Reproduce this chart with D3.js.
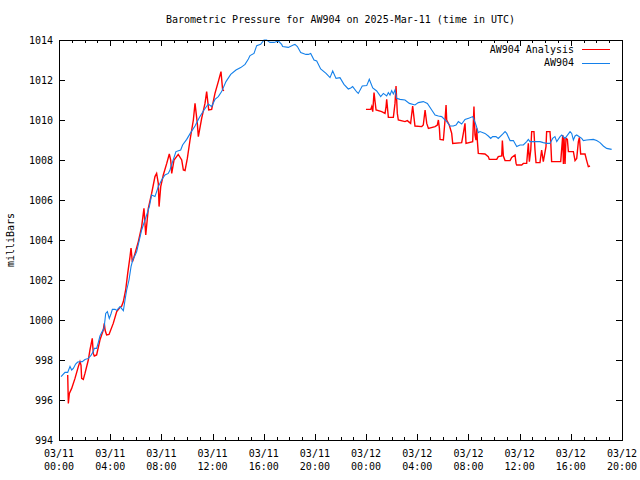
<!DOCTYPE html>
<html><head><meta charset="utf-8">
<script src="https://cdn.jsdelivr.net/npm/d3@7"></script>
<style>
body{margin:0;background:#fff}
svg text{font-family:"DejaVu Sans Mono","Liberation Mono",monospace;font-size:10px;fill:#000}
</style></head><body>
<svg id="c" width="640" height="480"></svg>
<script>
const titleText = "Barometric Pressure for AW904 on 2025-Mar-11 (time in UTC)";
const yLabel = "milliBars";
const seriesNames = ["AW904 Analysis", "AW904"];
const seriesColors = ["#ff0000", "#1480ea"];
const yTicks = [994, 996, 998, 1000, 1002, 1004, 1006, 1008, 1010, 1012, 1014];
const startUtc = Date.UTC(2025, 2, 11, 0, 0);
const endUtc = Date.UTC(2025, 2, 12, 20, 0);

// AW904 observations: hours since 2025-03-11 00:00 UTC, pressure in mb
const obsHours = [0.16,0.47,0.68,0.86,0.99,1.12,1.30,1.46,1.82,2.03,2.29,2.50,2.68,2.76,2.94,3.07,3.20,3.33,3.52,3.65,3.78,3.93,4.06,4.17,4.38,4.51,4.77,5.03,5.16,5.29,5.47,5.63,5.76,5.99,6.07,6.46,6.85,7.06,7.24,7.50,7.76,8.02,8.28,8.54,8.67,8.88,9.14,9.51,9.66,9.98,10.29,10.63,10.97,11.33,11.67,11.93,12.19,12.45,12.71,13.05,13.42,13.83,14.20,14.54,14.80,14.93,15.24,15.45,15.76,16.02,16.23,16.49,16.80,17.14,17.40,17.48,17.92,18.31,18.44,18.63,18.89,19.30,19.49,19.67,19.93,20.14,20.45,20.87,21.18,21.39,21.65,21.96,22.27,22.61,22.80,22.95,23.27,23.39,23.70,24.05,24.25,24.52,24.83,25.14,25.35,25.61,25.74,25.87,26.00,26.13,26.26,26.39,26.65,27.04,27.38,27.82,28.08,28.47,28.79,29.13,29.39,29.65,29.91,30.30,30.56,30.82,31.03,31.21,31.47,31.73,32.07,32.33,32.43,32.59,32.77,32.90,33.29,33.55,33.74,33.89,34.15,34.33,34.73,34.86,34.99,35.25,35.51,35.77,36.03,36.29,36.55,36.68,36.81,37.59,37.85,38.11,38.37,38.58,38.76,38.90,39.16,39.29,39.55,39.94,40.07,40.20,40.33,40.46,40.85,40.98,41.24,41.76,42.02,42.28,42.54,42.80,43.19];
const obsMb = [997.17,997.38,997.38,997.68,997.5,997.58,997.8,997.9,997.92,998.02,998.08,998.23,998.42,998.58,998.58,998.87,999.2,999.37,999.58,1000.33,1000.42,1000.08,1000.3,1000.53,1000.53,1000.48,1000.67,1000.47,1001.0,1001.5,1002.0,1002.67,1003.0,1003.3,1003.42,1004.5,1005.25,1005.67,1006.25,1006.17,1006.67,1007.0,1007.25,1007.33,1007.5,1007.92,1008.42,1008.5,1008.75,1009.03,1009.37,1009.7,1010.13,1010.5,1010.8,1010.67,1011.03,1011.17,1011.42,1011.92,1012.28,1012.5,1012.62,1012.78,1013.05,1013.22,1013.33,1013.72,1013.78,1014.0,1014.0,1013.88,1013.88,1013.95,1013.78,1013.67,1013.63,1013.75,1013.78,1013.67,1013.37,1013.28,1013.28,1013.33,1013.0,1012.95,1012.55,1012.33,1012.12,1012.45,1012.08,1012.12,1011.78,1011.55,1011.6,1011.67,1011.4,1011.33,1011.7,1011.72,1012.04,1011.6,1011.45,1011.17,1011.33,1011.2,1011.37,1011.25,1011.47,1011.3,1011.5,1011.08,1011.03,1011.0,1010.83,1010.75,1010.87,1010.92,1010.83,1010.5,1010.25,1010.2,1010.17,1009.92,1009.7,1009.7,1009.75,1009.92,1009.8,1010.03,1010.1,1010.17,1010.03,1009.75,1009.37,1009.42,1009.33,1009.2,1009.08,1009.17,1009.17,1009.08,1009.33,1009.42,1009.33,1008.97,1008.97,1008.67,1008.75,1008.75,1008.92,1009.03,1008.92,1008.92,1008.87,1008.83,1008.83,1009.08,1009.17,1008.92,1009.17,1009.25,1009.08,1009.42,1009.33,1009.0,1009.2,1009.25,1009.08,1008.97,1009.0,1009.03,1008.97,1008.87,1008.7,1008.58,1008.53];

// AW904 Analysis: hours and pressure; null marks the data gap
const anaHours = [0.68,0.73,0.81,0.99,1.25,1.51,1.64,1.72,1.77,1.90,2.03,2.29,2.42,2.60,2.68,2.76,2.94,3.20,3.46,3.54,3.60,3.72,3.91,4.24,4.51,4.77,4.90,5.03,5.21,5.37,5.55,5.63,5.73,5.81,6.20,6.46,6.64,6.78,6.98,7.24,7.50,7.63,7.76,7.82,7.95,8.15,8.42,8.62,8.73,8.81,8.99,9.32,9.59,9.72,9.85,10.03,10.24,10.50,10.63,10.81,10.89,11.15,11.41,11.54,11.70,11.93,12.19,12.45,12.66,12.79,12.90,18.0,23.99,24.36,24.44,24.52,24.62,24.70,24.78,25.22,25.48,25.56,25.61,25.74,26.13,26.26,26.34,26.44,26.52,27.04,27.22,27.48,27.64,27.82,28.35,28.47,28.61,28.74,28.87,29.39,29.57,29.65,29.73,29.78,30.04,30.17,30.25,30.30,30.50,30.69,30.77,31.47,31.60,31.73,31.81,32.33,32.43,32.51,32.59,32.65,32.70,32.77,33.29,33.55,33.63,34.21,34.33,34.60,34.65,34.73,34.86,35.25,35.38,35.64,35.72,35.77,36.16,36.29,36.55,36.68,36.76,36.87,36.94,37.12,37.20,37.28,37.59,37.72,37.85,38.06,38.11,38.37,38.43,38.50,39.21,39.29,39.37,39.42,39.47,39.55,39.62,39.73,39.81,40.20,40.33,40.46,40.59,40.67,40.77,41.11,41.24,41.37,41.50];
const anaMb = [997.25,995.83,996.33,996.58,997.08,997.67,997.92,997.75,997.08,997.03,997.33,998.0,998.5,999.08,998.33,998.2,998.25,999.0,999.5,999.83,999.5,999.25,999.28,999.83,1000.42,1000.63,1000.7,1000.92,1001.5,1002.33,1003.17,1003.6,1002.9,1003.03,1003.92,1004.67,1005.58,1004.25,1005.58,1006.33,1007.17,1007.33,1006.83,1005.67,1006.67,1007.25,1007.83,1008.3,1008.0,1007.33,1008.0,1008.28,1008.0,1007.5,1007.47,1008.08,1009.0,1010.0,1010.83,1009.83,1009.17,1010.08,1010.83,1011.42,1010.5,1010.53,1011.33,1011.92,1012.42,1011.5,1011.47,null,1010.53,1010.53,1010.67,1010.42,1011.37,1010.92,1010.5,1010.42,1010.33,1010.67,1011.03,1010.13,1010.13,1010.83,1011.7,1010.33,1010.0,1009.92,1009.97,1009.83,1010.7,1009.7,1009.67,1009.75,1010.5,1009.83,1009.58,1009.67,1009.75,1010.0,1009.58,1009.03,1009.0,1010.0,1010.75,1010.0,1009.75,1009.33,1008.83,1008.87,1009.33,1009.83,1008.83,1008.92,1010.67,1009.25,1009.0,1009.58,1008.92,1008.33,1008.3,1008.17,1008.03,1008.03,1008.17,1008.2,1008.97,1008.2,1007.97,1007.97,1008.13,1008.25,1007.83,1007.75,1007.75,1007.83,1007.83,1008.83,1007.92,1008.5,1009.42,1009.42,1008.5,1007.87,1007.87,1008.5,1007.92,1008.67,1009.42,1009.42,1008.92,1007.92,1007.92,1008.58,1009.25,1007.8,1009.13,1007.8,1009.08,1009.03,1008.42,1008.42,1007.97,1008.08,1008.92,1009.13,1008.3,1008.3,1007.97,1007.67,1007.7];

const svg = d3.select("#c");
const L = 59, R = 622, T = 40, B = 440;
const toDate = h => new Date(startUtc + h * 3600000);
const x = d3.scaleUtc().domain([new Date(startUtc), new Date(endUtc)]).range([L, R]);
const y = d3.scaleLinear().domain([994, 1014]).range([B, T]);

const g = svg.append("g");

// ticks
const majorX = x.ticks(d3.utcHour.every(4));
const minorX = x.ticks(d3.utcHour.every(1));
const tg = g.append("g").attr("stroke", "#000").attr("stroke-width", 1).attr("shape-rendering", "crispEdges");
minorX.forEach(t => {
  const len = (t.getUTCHours() % 4 === 0) ? 6 : 3;
  const xx = Math.round(x(t)) + 0.5;
  tg.append("line").attr("x1", xx).attr("x2", xx).attr("y1", B).attr("y2", B - len);
  tg.append("line").attr("x1", xx).attr("x2", xx).attr("y1", T).attr("y2", T + len);
});
yTicks.forEach(v => {
  const yy = Math.round(y(v)) + 0.5;
  tg.append("line").attr("x1", L).attr("x2", L + 6).attr("y1", yy).attr("y2", yy);
  tg.append("line").attr("x1", R).attr("x2", R - 6).attr("y1", yy).attr("y2", yy);
});

// y labels
g.append("g").selectAll("text").data(yTicks).join("text")
  .attr("x", L - 6).attr("y", d => y(d)).attr("dy", "0.35em")
  .attr("text-anchor", "end").text(d => d);

// x labels
const fmtDate = d3.utcFormat("%m/%d"), fmtTime = d3.utcFormat("%H:%M");
const xl = g.append("g").selectAll("text").data(majorX).join("text")
  .attr("text-anchor", "middle");
xl.append("tspan").attr("x", d => x(d)).attr("y", 457).text(d => fmtDate(d));
xl.append("tspan").attr("x", d => x(d)).attr("y", 470).text(d => fmtTime(d));

// data lines
const obs = obsHours.map((h, i) => ({t: toDate(h), p: obsMb[i]}));
const ana = anaHours.map((h, i) => ({t: toDate(h), p: anaMb[i]}));
const line = d3.line().defined(d => d.p != null).x(d => x(d.t)).y(d => y(d.p));
g.append("path").datum(ana).attr("d", line).attr("fill", "none")
  .attr("stroke", seriesColors[0]).attr("stroke-width", 1.4);
g.append("path").datum(obs).attr("d", line).attr("fill", "none")
  .attr("stroke", seriesColors[1]).attr("stroke-width", 1.1);

// frame
g.append("rect").attr("x", L + 0.5).attr("y", T + 0.5).attr("width", R - L).attr("height", B - T)
  .attr("fill", "none").attr("stroke", "#000").attr("shape-rendering", "crispEdges");

// title & axis label
svg.append("text").attr("x", (L + R) / 2).attr("y", 23).attr("text-anchor", "middle").text(titleText);
svg.append("text").attr("transform", `translate(14,${(T + B) / 2}) rotate(-90)`)
  .attr("text-anchor", "middle").text(yLabel);

// legend
const lg = svg.append("g");
seriesNames.forEach((n, i) => {
  const yy = 49 + i * 13.5;
  lg.append("text").attr("x", 574).attr("y", yy).attr("dy", "0.35em").attr("text-anchor", "end").text(n);
  lg.append("line").attr("x1", 582).attr("x2", 610).attr("y1", Math.round(yy) + 0.5).attr("y2", Math.round(yy) + 0.5)
    .attr("stroke", seriesColors[i]).attr("stroke-width", 1).attr("shape-rendering", "crispEdges");
});
</script>
</body></html>
